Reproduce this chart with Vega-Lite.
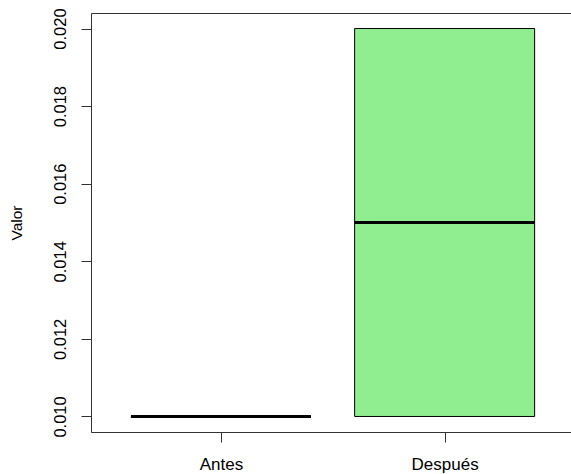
{
  "$schema": "https://vega.github.io/schema/vega-lite/v6.json",
  "width": 480,
  "height": 419,
  "autosize": {"type": "none"},
  "padding": {"left": 91, "top": 13, "right": 0, "bottom": 42},
  "background": "white",
  "config": {
    "view": {"stroke": null},
    "font": "Liberation Sans",
    "axis": {
      "domainColor": "#333333",
      "domainWidth": 1,
      "tickColor": "#333333",
      "tickWidth": 1,
      "tickSize": 10,
      "labelColor": "#000000",
      "labelFont": "Liberation Sans",
      "titleFont": "Liberation Sans",
      "titleColor": "#000000",
      "titleFontWeight": "normal",
      "grid": false
    }
  },
  "data": {
    "values": [
      {"grupo": "Antes", "q1": 0.010, "mediana": 0.010, "q3": 0.010},
      {"grupo": "Después", "q1": 0.010, "mediana": 0.015, "q3": 0.020}
    ]
  },
  "resolve": {"axis": {"x": "independent"}},
  "layer": [
    {
      "mark": {"type": "bar", "size": 180, "fill": "#90EE90", "stroke": "#000000", "strokeWidth": 1},
      "encoding": {
        "x": {
          "field": "grupo", "type": "nominal", "sort": null,
          "scale": {"type": "point", "padding": 0.5729, "align": 0.507},
          "axis": {"orient": "bottom", "title": null, "labelAngle": 0, "labelFontSize": 17, "labelPadding": 14}
        },
        "y": {
          "field": "q1", "type": "quantitative",
          "scale": {"domain": [0.0096, 0.0204], "nice": false, "zero": false},
          "axis": {
            "title": "Valor", "values": [0.010, 0.012, 0.014, 0.016, 0.018, 0.020], "format": ".3f",
            "labelAngle": 270, "labelFontSize": 16.5, "labelPadding": 13,
            "titleFontSize": 15.5, "titlePadding": 28
          }
        },
        "y2": {"field": "q3"}
      }
    },
    {
      "mark": {"type": "tick", "orient": "horizontal", "size": 180, "thickness": 3, "color": "#000000", "opacity": 1},
      "encoding": {
        "x": {
          "field": "grupo", "type": "nominal", "sort": null,
          "axis": {"orient": "top", "title": null, "labels": false, "ticks": false}
        },
        "y": {"field": "mediana", "type": "quantitative"}
      }
    }
  ]
}
